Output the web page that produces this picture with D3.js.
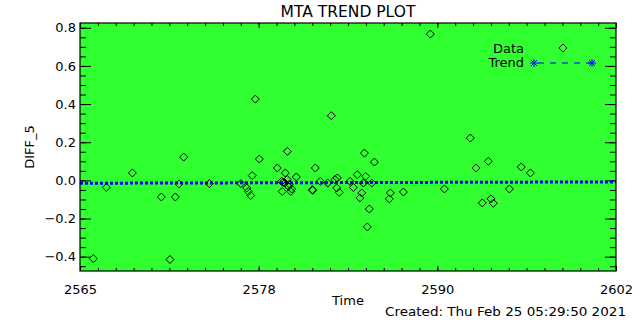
<!DOCTYPE html>
<html>
<head>
<meta charset="utf-8">
<script src="https://cdn.jsdelivr.net/npm/d3@7"></script>
<style>
  body { margin: 0; background: #fff; }
  svg { display: block; font-family: "DejaVu Sans", sans-serif; }
</style>
</head>
<body>
<svg width="640" height="320"></svg>
<script>
// data
const timeVals = [2566.22, 2567.12, 2568.91, 2570.91, 2571.51, 2571.88, 2572.13, 2572.46, 2574.23,
  2576.41, 2576.81, 2576.92, 2577.08, 2577.19, 2577.40, 2577.68, 2578.92, 2579.22, 2579.26, 2579.33,
  2579.47, 2579.45, 2579.61, 2579.61, 2579.68, 2579.75, 2579.85, 2579.91, 2580.23, 2581.34, 2581.37,
  2581.54, 2581.89, 2582.40, 2582.65, 2582.90, 2583.06, 2583.02, 2583.20, 2583.94, 2584.17, 2584.44,
  2584.63, 2584.75, 2584.86, 2584.93, 2585.02, 2585.13, 2585.27, 2585.44, 2585.62, 2586.65, 2586.72,
  2587.62, 2589.48, 2590.45, 2592.24, 2592.64, 2593.07, 2593.49, 2593.67, 2593.83, 2594.94, 2595.76,
  2596.39];
const diffVals = [-0.41, -0.037, 0.039, -0.087, -0.415, -0.087, -0.019, 0.122, -0.017,
  -0.017, -0.04, -0.058, -0.079, 0.025, 0.426, 0.112, 0.065, -0.005, -0.058, -0.01,
  0.039, -0.014, 0.152, 0.004, -0.031, -0.02, -0.058, -0.045, 0.018, -0.049, -0.052,
  0.065, -0.005, -0.014, 0.339, 0.004, 0.013, -0.04, -0.063, -0.005, -0.037, 0.03,
  -0.092, -0.066, -0.014, 0.143, 0.021, -0.244, -0.15, -0.014, 0.096, -0.097, -0.066,
  -0.061, 0.767, -0.045, 0.222, 0.065, -0.118, 0.1, -0.097, -0.12, -0.045, 0.07,
  0.039];
const trendTime = [2565.3, 2602.3];
const trendVals = [-0.015, -0.008];
const xDomain = [2565.3, 2602.3];
const yDomain = [-0.475, 0.825];
const yTickVals = [-0.4, -0.2, 0.0, 0.2, 0.4, 0.6, 0.8];

const svg = d3.select('svg');
const pLeft = 80, pRight = 616, pTop = 23, pBottom = 271;
const green = '#30ff30';

const x = d3.scaleLinear().domain(xDomain).range([pLeft, pRight]);
const y = d3.scaleLinear().domain(yDomain).range([pBottom, pTop]);

svg.append('rect')
    .attr('x', pLeft).attr('y', pTop)
    .attr('width', pRight - pLeft).attr('height', pBottom - pTop)
    .attr('fill', green);

// x ticks: 3 major intervals, 10 minor each
const xMajor = d3.range(4).map(i => xDomain[0] + i * (xDomain[1] - xDomain[0]) / 3);
const xMinor = d3.range(31).map(i => xDomain[0] + i * (xDomain[1] - xDomain[0]) / 30);
const yMinor = d3.range(-0.45, 0.826, 0.05).filter(v => v >= yDomain[0] && v <= yDomain[1]);

function fmtY(v) {
    const s = Math.abs(v).toFixed(1);
    return v < -1e-9 ? '\u2212' + s : s;
}

// bottom + top axes
svg.append('g')
    .attr('transform', `translate(0,${pBottom})`)
    .call(d3.axisBottom(x).tickValues(xMinor).tickSize(-3).tickFormat(''))
    .call(g => g.select('.domain').remove());
svg.append('g')
    .attr('transform', `translate(0,${pBottom})`)
    .call(d3.axisBottom(x).tickValues(xMajor).tickSize(-5).tickPadding(14).tickFormat(d3.format('.0f')))
    .call(g => g.select('.domain').remove())
    .call(g => g.selectAll('text').attr('font-size', 13).attr('font-family', '"DejaVu Sans", sans-serif').attr('fill', '#000'));
svg.append('g')
    .attr('transform', `translate(0,${pTop})`)
    .call(d3.axisTop(x).tickValues(xMinor).tickSize(-3).tickFormat(''))
    .call(g => g.select('.domain').remove());
svg.append('g')
    .attr('transform', `translate(0,${pTop})`)
    .call(d3.axisTop(x).tickValues(xMajor).tickSize(-5).tickFormat(''))
    .call(g => g.select('.domain').remove());

// left + right axes
svg.append('g')
    .attr('transform', `translate(${pLeft},0)`)
    .call(d3.axisLeft(y).tickValues(yMinor).tickSize(-6).tickFormat(''))
    .call(g => g.select('.domain').remove());
svg.append('g')
    .attr('transform', `translate(${pLeft},0)`)
    .call(d3.axisLeft(y).tickValues(yTickVals).tickSize(-11).tickPadding(4).tickFormat(fmtY))
    .call(g => g.select('.domain').remove())
    .call(g => g.selectAll('text').attr('x', -4).attr('font-size', 13).attr('font-family', '"DejaVu Sans", sans-serif').attr('fill', '#000'));
svg.append('g')
    .attr('transform', `translate(${pRight},0)`)
    .call(d3.axisRight(y).tickValues(yMinor).tickSize(-6).tickFormat(''))
    .call(g => g.select('.domain').remove());
svg.append('g')
    .attr('transform', `translate(${pRight},0)`)
    .call(d3.axisRight(y).tickValues(yTickVals).tickSize(-11).tickFormat(''))
    .call(g => g.select('.domain').remove());

svg.selectAll('.tick line').attr('stroke', '#000');

// trend line
svg.append('path')
    .datum(trendTime.map((t, i) => [t, trendVals[i]]))
    .attr('d', d3.line().x(d => x(d[0])).y(d => y(d[1])))
    .attr('stroke', '#0000ff')
    .attr('stroke-width', 3)
    .attr('stroke-dasharray', '3,2')
    .attr('fill', 'none');

// data diamonds
const diamond = 'M0,-4L4,0L0,4L-4,0Z';
svg.append('g').selectAll('path')
    .data(timeVals.map((t, i) => [t, diffVals[i]]))
    .enter().append('path')
    .attr('d', diamond)
    .attr('transform', d => `translate(${x(d[0])},${y(d[1])})`)
    .attr('fill', 'none')
    .attr('stroke', '#000')
    .attr('stroke-width', 1);

// frame
svg.append('rect')
    .attr('x', pLeft).attr('y', pTop)
    .attr('width', pRight - pLeft).attr('height', pBottom - pTop)
    .attr('fill', 'none').attr('stroke', '#000').attr('stroke-width', 1.2);

// titles
svg.append('text')
    .attr('x', (pLeft + pRight) / 2).attr('y', 17)
    .attr('text-anchor', 'middle').attr('font-size', 15.5)
    .text('MTA TREND PLOT');
svg.append('text')
    .attr('transform', `translate(34,${(pTop + pBottom) / 2}) rotate(-90)`)
    .attr('text-anchor', 'middle').attr('font-size', 13)
    .text('DIFF_5');
svg.append('text')
    .attr('x', (pLeft + pRight) / 2).attr('y', 305)
    .attr('text-anchor', 'middle').attr('font-size', 13)
    .text('Time');
svg.append('text')
    .attr('x', 626).attr('y', 316)
    .attr('text-anchor', 'end').attr('font-size', 13)
    .attr('textLength', 241).attr('lengthAdjust', 'spacingAndGlyphs')
    .text('Created: Thu Feb 25 05:29:50 2021');

// legend
const legend = svg.append('g');
legend.append('text').attr('x', 524).attr('y', 53).attr('text-anchor', 'end').attr('font-size', 13).text('Data');
legend.append('text').attr('x', 524).attr('y', 67).attr('text-anchor', 'end').attr('font-size', 13).text('Trend');
legend.append('path').attr('d', diamond).attr('transform', 'translate(563,48)')
    .attr('fill', 'none').attr('stroke', '#000');
legend.append('line').attr('x1', 534).attr('x2', 592).attr('y1', 63).attr('y2', 63)
    .attr('stroke', '#0000ff').attr('stroke-dasharray', '6,6').attr('stroke-dashoffset', -4);
const star = 'M-4,0L4,0M0,-4L0,4M-3,-3L3,3M-3,3L3,-3';
[534, 592].forEach(px => {
    legend.append('path').attr('d', star).attr('transform', `translate(${px},63)`)
        .attr('stroke', '#0000ff').attr('fill', 'none');
});
</script>
</body>
</html>
